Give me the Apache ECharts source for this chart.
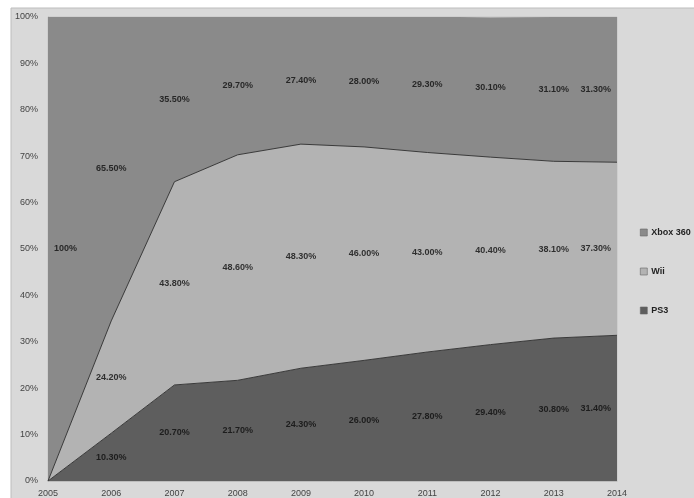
<!DOCTYPE html>
<html>
<head>
<meta charset="utf-8">
<script src="https://cdn.jsdelivr.net/npm/echarts@6/dist/echarts.min.js"></script>
<style>
html,body{margin:0;padding:0;background:#fff;}
#chart{width:694px;height:498px;}
</style>
</head>
<body>
<div id="chart"></div>
<script>
const years = ['2005','2006','2007','2008','2009','2010','2011','2012','2013','2014'];
const ps3 = [0, 10.3, 20.7, 21.7, 24.3, 26.0, 27.8, 29.4, 30.8, 31.4];
const wii = [0, 24.2, 43.8, 48.6, 48.3, 46.0, 43.0, 40.4, 38.1, 37.3];
const xbox = [100, 65.5, 35.5, 29.7, 27.4, 28.0, 29.3, 30.1, 31.1, 31.3];
const yTicks = [0,10,20,30,40,50,60,70,80,90,100];

const colors = {ps3:'#5e5e5e', wii:'#b3b3b3', xbox:'#8a8a8a'};

function fmt(v){ return v === 100 ? '100%' : v.toFixed(2) + '%'; }

function labelPoints(values, bottoms){
  return values.map((v,i)=>{
    if (v === 0) return null;
    const item = {value:[i, bottoms[i] + v/2], raw:v};
    if (i === 0) item.label = {position:'right', distance:6};
    else if (i === values.length-1) item.label = {position:'left', distance:6};
    return item;
  }).filter(Boolean);
}
const zeros = years.map(()=>0);
const wiiBottom = ps3.slice();
const xboxBottom = ps3.map((v,i)=>v + wii[i]);

function labelSeries(name, values, bottoms){
  return {
    name: name, type:'scatter', symbolSize:0, z:10, silent:true,
    data: labelPoints(values, bottoms),
    label:{show:true, position:'inside', color:'#0d0d0d', fontSize:9, fontWeight:'bold',
      fontFamily:'Liberation Sans, Arial, sans-serif',
      formatter: p => fmt(p.data.raw)}
  };
}

function areaSeries(name, values, color, lineW){
  return {
    name:name, type:'line', stack:'total', data:values, symbol:'none',
    lineStyle:{color:'#3a3a3a', width:lineW},
    itemStyle:{color:color},
    areaStyle:{color:color, opacity:1}
  };
}

const chart = echarts.init(document.getElementById('chart'), null, {renderer:'canvas'});
chart.setOption({
  animation:false,
  backgroundColor:'#ffffff',
  graphic:[
    {type:'rect', shape:{x:11, y:8, width:700, height:500}, style:{fill:'#d9d9d9', stroke:'#bdbdbd', lineWidth:1}, z:-10}
  ],
  grid:{left:48, right:77, top:17, bottom:17, show:true, borderColor:'#c4c4c4', borderWidth:1, backgroundColor:'transparent'},
  legend:{
    orient:'vertical', left:635, top:223, itemGap:30, itemWidth:7, itemHeight:7,
    icon:'rect',
    data:['Xbox 360','Wii','PS3'],
    textStyle:{fontSize:9, color:'#222', fontWeight:'bold', fontFamily:'Liberation Sans, Arial, sans-serif', padding:[0,0,0,-1]},
    itemStyle:{borderColor:'#666', borderWidth:0.6}
  },
  xAxis:{
    type:'category', data:years, boundaryGap:false,
    axisLine:{lineStyle:{color:'#bdbdbd'}},
    axisTick:{show:false},
    axisLabel:{color:'#444', fontSize:9, margin:8, fontFamily:'Liberation Sans, Arial, sans-serif'}
  },
  yAxis:{
    type:'value', min:0, max:100, interval:10,
    axisLine:{show:true, lineStyle:{color:'#bdbdbd'}},
    axisTick:{show:false},
    splitLine:{show:false},
    axisLabel:{color:'#444', fontSize:9, margin:10, fontFamily:'Liberation Sans, Arial, sans-serif',
      formatter: v => yTicks.includes(v) ? v + '%' : ''}
  },
  series:[
    areaSeries('PS3', ps3, colors.ps3, 1),
    areaSeries('Wii', wii, colors.wii, 1),
    areaSeries('Xbox 360', xbox, colors.xbox, 0),
    labelSeries('lblPS3', ps3, zeros),
    labelSeries('lblWii', wii, wiiBottom),
    labelSeries('lblXbox', xbox, xboxBottom)
  ]
});
</script>
</body>
</html>
